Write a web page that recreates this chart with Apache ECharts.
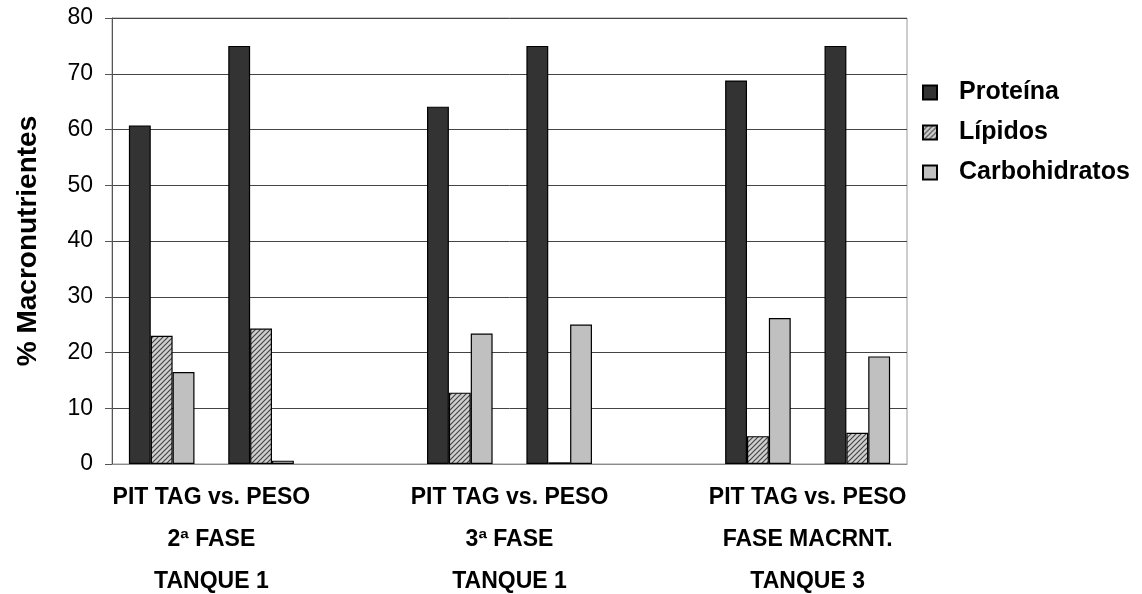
<!DOCTYPE html>
<html>
<head>
<meta charset="utf-8">
<title>% Macronutrientes</title>
<script src="https://cdn.jsdelivr.net/npm/echarts@6/dist/echarts.min.js"></script>
<style>
  html, body { margin: 0; padding: 0; background: #fff; }
  #chart { width: 1142px; height: 594px; }
</style>
</head>
<body>
<div id="chart"></div>
<script>
// Group labels on the category axis (one per pair of clusters)
const groupLabels = [
  'PIT TAG vs. PESO\n2ª FASE\nTANQUE 1',
  'PIT TAG vs. PESO\n3ª FASE\nTANQUE 1',
  'PIT TAG vs. PESO\nFASE MACRNT.\nTANQUE 3'
];
// Two clusters per group, in order
const seriesNames = ['Proteína', 'Lípidos', 'Carbohidratos'];
const proteina      = [60.7, 75.0, 64.1, 75.0, 68.8, 75.0];
const lipidos       = [23.0, 24.3, 12.8, 0.3, 5.0, 5.6];
const carbohidratos = [16.5, 0.6, 23.4, 25.0, 26.2, 19.3];
const clustersPerGroup = 2;
const yTicks = [0, 10, 20, 30, 40, 50, 60, 70, 80];

// Lay the clusters out on slots, with an empty slot between groups
const slots = [];
const slotOf = [];
groupLabels.forEach((g, gi) => {
  for (let k = 0; k < clustersPerGroup; k++) {
    slotOf.push(slots.length);
    slots.push('g' + gi + '-' + k);
  }
  if (gi < groupLabels.length - 1) slots.push('sep' + gi);
});
function toSlots(values) {
  const out = slots.map(() => null);
  values.forEach((v, i) => { out[slotOf[i]] = v; });
  return out;
}
// Each group label sits on the boundary between its two clusters
const labelPos = groupLabels.map((g, gi) => slotOf[gi * clustersPerGroup] + 1);

// Diagonal hatch used for the lipid bars
function hatchPattern() {
  const s = 5;
  const c = document.createElement('canvas');
  c.width = s; c.height = s;
  const ctx = c.getContext('2d');
  ctx.fillStyle = '#cfcfcf';
  ctx.fillRect(0, 0, s, s);
  ctx.strokeStyle = '#454545';
  ctx.lineWidth = 1.2;
  ctx.beginPath();
  ctx.moveTo(0, s); ctx.lineTo(s, 0);
  ctx.moveTo(-1, 1); ctx.lineTo(1, -1);
  ctx.moveTo(s - 1, s + 1); ctx.lineTo(s + 1, s - 1);
  ctx.stroke();
  return { image: c, repeat: 'repeat' };
}

const FONT = "'Liberation Sans', Arial, sans-serif";
const fills = ['#333333', hatchPattern(), '#c0c0c0'];
const values = [proteina, lipidos, carbohidratos];

const chart = echarts.init(document.getElementById('chart'), null, { renderer: 'canvas' });
chart.setOption({
  animation: false,
  backgroundColor: '#ffffff',
  textStyle: { fontFamily: FONT },
  grid: {
    left: 112, right: 235, top: 18, bottom: 130,
    show: true, borderColor: '#9a9a9a', borderWidth: 1,
    containLabel: false, outerBoundsMode: 'none'
  },
  legend: {
    orient: 'vertical',
    left: 917, top: 75,
    itemWidth: 14, itemHeight: 14, itemGap: 15,
    icon: 'rect',
    data: seriesNames,
    textStyle: {
      fontFamily: FONT, fontSize: 25, fontWeight: 'bold', color: '#000',
      padding: [0, 0, 0, 17]
    }
  },
  xAxis: [
    {
      type: 'category',
      data: slots,
      boundaryGap: true,
      axisLine: { show: true, lineStyle: { color: '#8a8a8a', width: 1 } },
      axisTick: { show: false },
      axisLabel: { show: false },
      splitLine: { show: false }
    },
    {
      type: 'value',
      position: 'bottom',
      min: 0, max: slots.length,
      axisLine: { show: false },
      axisTick: { show: false },
      splitLine: { show: false },
      axisLabel: {
        customValues: labelPos,
        margin: 13,
        fontFamily: FONT, fontSize: 23, fontWeight: 'bold', color: '#000',
        lineHeight: 42, align: 'center',
        formatter: v => {
          const i = labelPos.indexOf(v);
          return i >= 0 ? groupLabels[i] : '';
        }
      }
    }
  ],
  yAxis: {
    type: 'value',
    min: yTicks[0], max: yTicks[yTicks.length - 1], interval: 10,
    name: '% Macronutrientes',
    nameLocation: 'middle',
    nameGap: 70,
    nameTextStyle: { fontFamily: FONT, fontSize: 28, fontWeight: 'bold', color: '#000' },
    axisLine: { show: true, lineStyle: { color: '#555', width: 1 } },
    axisTick: { show: true, inside: false, length: 7, lineStyle: { color: '#555' } },
    axisLabel: { margin: 19, fontFamily: FONT, fontSize: 23, color: '#000' },
    splitLine: { show: true, lineStyle: { color: '#444', width: 1 } }
  },
  series: seriesNames.map((name, i) => ({
    name,
    type: 'bar',
    xAxisIndex: 0,
    data: toSlots(values[i]),
    barGap: '0%',
    barCategoryGap: '34%',
    itemStyle: { color: fills[i], borderColor: '#000', borderWidth: 1.2 }
  }))
});
</script>
</body>
</html>
